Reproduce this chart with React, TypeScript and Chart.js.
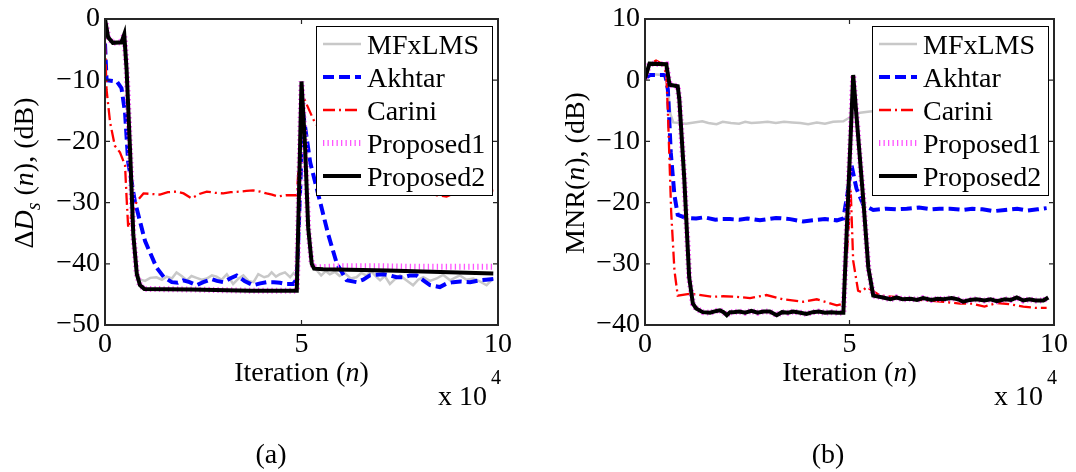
import { useEffect, useRef } from 'react';
import { Chart, registerables } from 'chart.js';

Chart.register(...registerables);

const FONT = '"Liberation Serif", "Times New Roman", Times, serif';

// ---------- data ----------
const seriesLabels = ['MFxLMS', 'Akhtar', 'Carini', 'Proposed1', 'Proposed2'];

// x in units of 10^4 iterations
const xRange = [0, 10];
const xStep = 5;
const yRangeA = [-50, 0];
const yRangeB = [-40, 10];
const yStep = 10;

// (a) ΔDs(n)
const aMfx: [number, number][] = [
  [0, 0], [0.08, -3.0], [0.2, -3.9], [0.42, -3.8], [0.49, -2.5], [0.55, -8.3], [0.64, -21.8], [0.72, -35.2],
  [0.8, -41.5], [0.9, -42.6], [1.02, -42.8], [1.15, -42.3], [1.31, -42.2], [1.45, -42.6], [1.57, -42.1],
  [1.7, -42.4], [1.82, -41.4], [1.95, -42.0], [2.08, -42.7], [2.2, -42.0], [2.33, -42.3], [2.46, -42.6],
  [2.59, -42.4], [2.72, -41.9], [2.84, -42.1], [2.97, -42.6], [3.1, -41.7], [3.26, -43.3], [3.4, -42.4],
  [3.52, -41.9], [3.65, -42.8], [3.78, -43.0], [3.9, -41.7], [4.05, -42.2], [4.15, -42.0], [4.24, -41.4],
  [4.35, -42.1], [4.45, -41.7], [4.58, -41.4], [4.71, -42.2], [4.8, -41.5], [4.88, -42.0], [5.0, -10.2],
  [5.09, -20.7], [5.17, -34.1], [5.26, -40.2], [5.39, -41.1], [5.5, -41.9], [5.62, -41.2], [5.72, -41.7],
  [5.85, -41.3], [5.97, -42.0], [6.1, -41.5], [6.25, -42.4], [6.4, -42.2], [6.52, -41.5], [6.65, -41.9],
  [6.78, -41.3], [6.9, -42.1], [7.0, -42.7], [7.12, -42.0], [7.25, -43.3], [7.38, -42.5], [7.51, -41.9],
  [7.65, -42.6], [7.84, -43.5], [7.97, -42.6], [8.1, -42.2], [8.27, -42.8], [8.44, -42.4], [8.6, -41.8],
  [8.78, -42.7], [8.9, -42.3], [9.03, -41.9], [9.2, -42.6], [9.37, -42.4], [9.55, -42.9], [9.71, -43.5],
  [9.88, -42.4],
];
const aAkhtar: [number, number][] = [
  [0, -4.0], [0.04, -10.0], [0.3, -10.2], [0.42, -11.3], [0.51, -15.3], [0.59, -23.4], [0.76, -29.8],
  [1.02, -36.3], [1.31, -40.6], [1.5, -42.2], [1.7, -43.0], [1.85, -43.1], [1.99, -42.7], [2.15, -43.0],
  [2.33, -43.5], [2.5, -43.0], [2.71, -42.5], [2.85, -42.8], [3.01, -43.0], [3.18, -42.4], [3.35, -41.9],
  [3.55, -42.8], [3.77, -43.5], [3.95, -43.2], [4.11, -43.0], [4.3, -43.0], [4.45, -43.1], [4.6, -43.3],
  [4.79, -43.3], [4.88, -42.5], [5.04, -15.3], [5.22, -23.4], [5.47, -29.8], [5.68, -35.2], [5.9, -40.0],
  [6.15, -42.7], [6.4, -43.0], [6.57, -42.6], [6.74, -41.9], [6.9, -41.8], [7.08, -41.7], [7.25, -41.9],
  [7.42, -42.2], [7.6, -42.2], [7.76, -41.9], [7.93, -41.9], [8.1, -42.7], [8.27, -43.5], [8.52, -43.8],
  [8.7, -43.2], [8.86, -43.0], [9.05, -42.9], [9.29, -43.0], [9.54, -42.7], [9.7, -42.6], [9.88, -42.5],
];
const aCarini: [number, number][] = [
  [0, -3.8], [0.04, -11.6], [0.13, -16.9], [0.25, -20.7], [0.38, -21.8], [0.51, -23.9], [0.55, -29.3],
  [0.59, -34.1], [0.7, -31.5], [0.81, -29.8], [0.98, -28.5], [1.2, -28.6], [1.4, -28.7], [1.6, -28.3],
  [1.82, -28.2], [2.0, -28.5], [2.2, -29.3], [2.4, -28.6], [2.59, -28.2], [2.8, -28.4], [3.01, -28.5],
  [3.2, -28.3], [3.44, -28.2], [3.6, -28.1], [3.77, -28.0], [3.95, -28.2], [4.11, -28.5], [4.25, -28.7],
  [4.41, -29.0], [4.6, -28.8], [4.88, -28.8], [4.95, -22.0], [5.0, -11.6], [5.1, -13.5], [5.3, -16.4],
  [5.6, -19.5], [6.0, -23.0], [6.5, -26.0], [7.0, -27.5], [7.5, -28.0], [7.9, -28.2], [8.18, -28.5],
  [8.45, -28.8], [8.69, -29.0], [8.85, -28.6], [9.03, -28.5], [9.2, -28.4], [9.37, -28.5], [9.6, -28.2],
  [9.88, -28.0],
];
const aProp1: [number, number][] = [
  [0, 0], [0.08, -3.0], [0.2, -3.9], [0.42, -3.8], [0.49, -2.5], [0.55, -8.3], [0.64, -21.8], [0.72, -35.2],
  [0.81, -41.7], [0.89, -43.5], [1.0, -44.1], [2.2, -44.2], [3.7, -44.4], [4.88, -44.4], [5.0, -10.2],
  [5.09, -20.7], [5.17, -34.1], [5.26, -40.0], [5.32, -40.6], [6.0, -40.4], [7.0, -40.4], [8.0, -40.5],
  [9.0, -40.5], [9.88, -40.5],
];
const aProp2: [number, number][] = [
  [0, 0], [0.08, -3.0], [0.2, -3.9], [0.42, -3.8], [0.49, -2.5], [0.55, -8.3], [0.64, -21.8], [0.72, -35.2],
  [0.81, -41.7], [0.89, -43.5], [1.0, -44.1], [2.2, -44.2], [3.7, -44.4], [4.88, -44.4], [5.0, -10.2],
  [5.09, -20.7], [5.17, -34.1], [5.26, -40.0], [5.32, -40.8], [5.55, -40.9], [7.2, -41.1], [9.88, -41.6],
];

// (b) MNR(n)
const bMfx: [number, number][] = [
  [0, 1.1], [0.12, 1.0], [0.44, 0.85], [0.55, -0.5], [0.62, -5.5], [0.69, -6.9], [0.85, -7.0], [1.0, -7.1],
  [1.2, -6.9], [1.4, -6.7], [1.55, -7.0], [1.75, -7.2], [1.9, -6.8], [2.1, -7.0], [2.3, -7.1], [2.45, -6.8],
  [2.6, -7.0], [2.8, -6.9], [3.0, -6.8], [3.2, -7.0], [3.4, -6.8], [3.6, -6.9], [3.8, -7.0], [3.99, -7.2],
  [4.2, -6.9], [4.4, -7.1], [4.6, -6.8], [4.85, -6.7], [4.95, -6.3], [5.1, -5.8], [5.26, -5.3], [5.5, -5.1],
  [5.75, -5.0], [6.2, -5.0], [7.0, -5.1], [8.0, -5.0], [9.0, -5.2], [9.86, -5.3],
];
const bAkhtar: [number, number][] = [
  [0, 0.3], [0.12, 0.85], [0.5, 0.85], [0.56, -1.6], [0.63, -11.8], [0.72, -18.8], [0.8, -22.0],
  [1.0, -22.5], [1.25, -22.6], [1.45, -22.4], [1.72, -22.8], [1.9, -22.7], [2.08, -22.7], [2.3, -22.8],
  [2.5, -22.6], [2.81, -22.9], [3.0, -22.7], [3.2, -22.5], [3.55, -22.7], [3.87, -23.1], [4.1, -22.9],
  [4.4, -22.7], [4.69, -22.9], [4.85, -22.6], [4.97, -17.7], [5.05, -13.9], [5.17, -17.7], [5.34, -20.4],
  [5.58, -21.2], [5.9, -21.0], [6.15, -21.1], [6.4, -21.0], [6.7, -20.8], [7.0, -21.1], [7.2, -21.0],
  [7.46, -21.0], [7.78, -21.2], [8.0, -21.0], [8.25, -21.1], [8.52, -21.4], [8.8, -21.2], [9.1, -21.0],
  [9.35, -21.3], [9.6, -21.1], [9.82, -20.9],
];
const bCarini: [number, number][] = [
  [0, 0], [0.12, 2.7], [0.27, 3.2], [0.44, 2.6], [0.52, 1.0], [0.56, -5.3], [0.6, -13.4], [0.64, -21.5],
  [0.72, -31.1], [0.8, -35.2], [1.08, -34.9], [1.25, -35.0], [1.65, -35.4], [1.91, -35.3], [2.22, -35.4],
  [2.57, -35.6], [2.97, -35.1], [3.38, -35.8], [3.87, -36.2], [4.2, -35.8], [4.45, -36.3], [4.69, -36.8],
  [4.85, -36.5], [4.97, -25.2], [5.03, -18.0], [5.09, -29.5], [5.21, -34.4], [5.29, -34.6], [5.42, -33.8],
  [5.75, -35.2], [6.1, -35.4], [6.5, -35.8], [6.9, -36.0], [7.3, -36.2], [7.7, -36.5], [8.0, -36.5],
  [8.3, -37.0], [8.6, -36.4], [8.9, -36.6], [9.25, -37.0], [9.55, -37.2], [9.82, -37.2],
];
const bProp2: [number, number][] = [
  [0, 0.3], [0.11, 2.7], [0.52, 2.6], [0.6, -0.75], [0.8, -1.0], [0.84, -3.2], [0.96, -16.1], [1.08, -32.2],
  [1.17, -36.5], [1.25, -37.3], [1.41, -37.9], [1.59, -38.0], [1.75, -37.7], [1.83, -37.6], [1.92, -37.9],
  [2.0, -38.4], [2.08, -37.9], [2.16, -37.9], [2.3, -37.8], [2.45, -38.0], [2.6, -37.7], [2.75, -38.0],
  [2.9, -37.8], [3.05, -37.8], [3.22, -38.4], [3.35, -37.9], [3.5, -38.0], [3.62, -37.8], [3.8, -38.0],
  [3.95, -38.2], [4.1, -37.9], [4.25, -37.8], [4.4, -38.0], [4.55, -37.9], [4.7, -38.0], [4.85, -38.0],
  [5.09, 0.85], [5.34, -19.8], [5.46, -30.6], [5.58, -35.2], [5.82, -35.5], [6.0, -35.8], [6.15, -35.5],
  [6.3, -35.8], [6.5, -35.7], [6.65, -35.9], [6.8, -35.6], [7.0, -35.9], [7.15, -35.7], [7.3, -35.8],
  [7.5, -35.6], [7.65, -35.8], [7.78, -36.2], [7.95, -35.9], [8.1, -35.8], [8.3, -36.0], [8.45, -35.8],
  [8.6, -36.1], [8.8, -35.8], [8.95, -35.9], [9.09, -35.5], [9.25, -36.0], [9.4, -35.8], [9.55, -36.0],
  [9.74, -36.0], [9.86, -35.5],
];
const bProp1: [number, number][] = bProp2;

// ---------- styles ----------
const seriesStyles = [
  { color: '#c8c8c8', width: 2.5, dash: [] as number[] },
  { color: '#0000ff', width: 4, dash: [11, 5] },
  { color: '#ff0000', width: 2.3, dash: [12, 4, 2, 4] },
  { color: '#ff55ff', width: 6, dash: [1.3, 3.2] },
  { color: '#000000', width: 4, dash: [] as number[] },
];

type Seg = { t: string; it?: boolean; size?: number; dy?: number };

function segFont(s: Seg) {
  return `${s.it ? 'italic ' : ''}${s.size ?? 28}px ${FONT}`;
}
function measureSegs(ctx: CanvasRenderingContext2D, segs: Seg[]) {
  let w = 0;
  for (const s of segs) {
    ctx.font = segFont(s);
    w += ctx.measureText(s.t).width;
  }
  return w;
}
function drawSegs(ctx: CanvasRenderingContext2D, segs: Seg[], x: number, y: number) {
  let cx = x;
  for (const s of segs) {
    ctx.font = segFont(s);
    ctx.fillText(s.t, cx, y + (s.dy ?? 0));
    cx += ctx.measureText(s.t).width;
  }
}

type PanelCfg = {
  series: [number, number][][];
  yRange: number[];
  yAxisWidth: number;
  padRight: number;
  yTitle: Seg[];
  yTitleX: number;
  caption: string;
  captionX: number;
};

function makeDecor(cfg: PanelCfg) {
  return {
    id: 'decor',
    afterDatasetsDraw(chart: any) {
      const { ctx, chartArea: a, scales } = chart;
      ctx.save();
      // frame
      ctx.setLineDash([]);
      ctx.strokeStyle = '#262626';
      ctx.lineWidth = 2;
      ctx.strokeRect(a.left, a.top, a.right - a.left, a.bottom - a.top);
      // inner ticks
      ctx.lineWidth = 1.2;
      ctx.beginPath();
      for (const t of scales.x.ticks) {
        const px = scales.x.getPixelForValue(t.value);
        ctx.moveTo(px, a.bottom);
        ctx.lineTo(px, a.bottom - 5);
        ctx.moveTo(px, a.top);
        ctx.lineTo(px, a.top + 5);
      }
      for (const t of scales.y.ticks) {
        const py = scales.y.getPixelForValue(t.value);
        ctx.moveTo(a.left, py);
        ctx.lineTo(a.left + 5, py);
        ctx.moveTo(a.right, py);
        ctx.lineTo(a.right - 5, py);
      }
      ctx.stroke();

      // legend
      const lx = a.right - 182;
      const ly = a.top + 7;
      const lw = 176;
      const lh = 169;
      ctx.fillStyle = '#ffffff';
      ctx.fillRect(lx, ly, lw, lh);
      ctx.strokeStyle = '#000000';
      ctx.lineWidth = 1;
      ctx.strokeRect(lx + 0.5, ly + 0.5, lw, lh);
      chart.data.datasets.forEach((ds: any, i: number) => {
        const ry = ly + 18 + i * 33;
        ctx.save();
        ctx.strokeStyle = ds.borderColor;
        ctx.lineWidth = ds.borderWidth;
        ctx.setLineDash(ds.borderDash || []);
        ctx.beginPath();
        ctx.moveTo(lx + 7, ry);
        ctx.lineTo(lx + 45, ry);
        ctx.stroke();
        ctx.restore();
        ctx.fillStyle = '#000';
        ctx.textAlign = 'left';
        ctx.textBaseline = 'alphabetic';
        ctx.font = `28px ${FONT}`;
        ctx.fillText(ds.label, lx + 51, ry + 10);
      });

      // titles
      ctx.fillStyle = '#000';
      ctx.textAlign = 'left';
      ctx.textBaseline = 'alphabetic';
      const xt: Seg[] = [{ t: 'Iteration (' }, { t: 'n', it: true }, { t: ')' }];
      const xw = measureSegs(ctx, xt);
      drawSegs(ctx, xt, (a.left + a.right) / 2 - xw / 2, 381);

      drawSegs(ctx, [{ t: 'x 10' }], a.right - 60, 405);
      drawSegs(ctx, [{ t: '4', size: 20 }], a.right - 7, 384);

      ctx.save();
      ctx.translate(cfg.yTitleX, (a.top + a.bottom) / 2 + 1);
      ctx.rotate(-Math.PI / 2);
      const yw = measureSegs(ctx, cfg.yTitle);
      drawSegs(ctx, cfg.yTitle, -yw / 2, 0);
      ctx.restore();

      ctx.font = `28px ${FONT}`;
      ctx.textAlign = 'center';
      ctx.fillText(cfg.caption, cfg.captionX, 463);
      ctx.restore();
    },
  };
}

function fmt(v: number) {
  return v < 0 ? '\u2212' + Math.abs(v) : String(v);
}

function Panel({ cfg }: { cfg: PanelCfg }) {
  const ref = useRef<HTMLCanvasElement | null>(null);
  useEffect(() => {
    if (!ref.current) return;
    const datasets = cfg.series.map((pts, i) => ({
      label: seriesLabels[i],
      data: pts.map(([x, y]) => ({ x, y })),
      borderColor: seriesStyles[i].color,
      borderWidth: seriesStyles[i].width,
      borderDash: seriesStyles[i].dash,
      pointRadius: 0,
      fill: false,
      tension: 0,
      order: cfg.series.length - 1 - i,
    }));
    const tickFont = { family: FONT, size: 28, lineHeight: 1 };
    const chart = new Chart(ref.current, {
      type: 'line',
      data: { datasets },
      options: {
        animation: false,
        responsive: false,
        devicePixelRatio: 1,
        layout: { padding: { left: 0, right: cfg.padRight, top: 15, bottom: 0 }, autoPadding: false },
        plugins: { legend: { display: false }, tooltip: { enabled: false }, title: { display: false } },
        scales: {
          x: {
            type: 'linear',
            min: xRange[0],
            max: xRange[1],
            afterFit: (s: any) => {
              s.height = 147;
            },
            ticks: {
              stepSize: xStep,
              font: tickFont,
              color: '#000',
              padding: 6,
              maxRotation: 0,
              autoSkip: false,
              callback: (v: any) => fmt(Number(v)),
            },
            grid: { display: false, drawTicks: false },
            border: { display: false },
          },
          y: {
            type: 'linear',
            min: cfg.yRange[0],
            max: cfg.yRange[1],
            afterFit: (s: any) => {
              s.width = cfg.yAxisWidth;
            },
            ticks: {
              stepSize: yStep,
              font: tickFont,
              color: '#000',
              padding: 5,
              autoSkip: false,
              callback: (v: any) => fmt(Number(v)),
            },
            grid: { display: false, drawTicks: false },
            border: { display: false },
          },
        },
      } as any,
      plugins: [makeDecor(cfg)],
    });
    return () => chart.destroy();
  }, [cfg]);
  return <canvas ref={ref} width={538} height={472} style={{ display: 'block', width: 538, height: 472 }} />;
}

const panelA: PanelCfg = {
  series: [aMfx, aAkhtar, aCarini, aProp1, aProp2],
  yRange: yRangeA,
  yAxisWidth: 105,
  padRight: 40,
  yTitle: [
    { t: '\u0394' },
    { t: 'D', it: true },
    { t: 's', it: true, size: 20, dy: 7 },
    { t: ' (' },
    { t: 'n', it: true },
    { t: '), (dB)' },
  ],
  yTitleX: 33,
  caption: '(a)',
  captionX: 271,
};

const panelB: PanelCfg = {
  series: [bMfx, bAkhtar, bCarini, bProp1, bProp2],
  yRange: yRangeB,
  yAxisWidth: 107,
  padRight: 22,
  yTitle: [{ t: 'MNR(' }, { t: 'n', it: true }, { t: '), (dB)' }],
  yTitleX: 46,
  caption: '(b)',
  captionX: 290,
};

export default function App() {
  return (
    <div
      style={{
        position: 'absolute',
        left: 0,
        top: 0,
        width: 1076,
        height: 472,
        background: '#ffffff',
        display: 'flex',
        flexDirection: 'row',
      }}
    >
      <Panel cfg={panelA} />
      <Panel cfg={panelB} />
    </div>
  );
}
